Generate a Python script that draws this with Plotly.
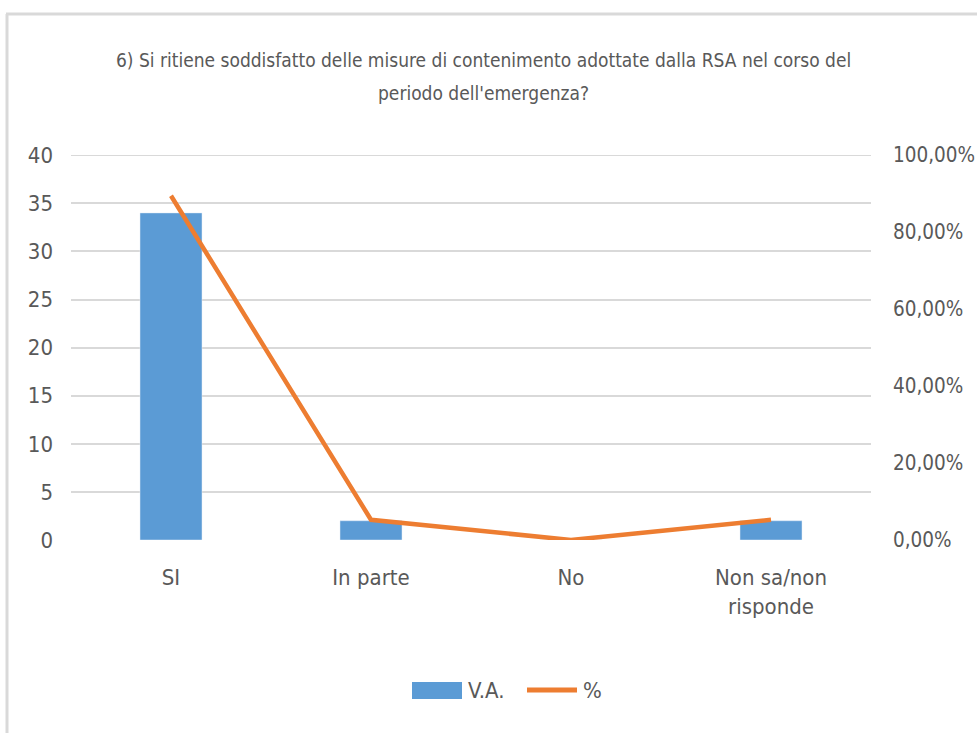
import plotly.graph_objects as go

categories = ["SI", "In parte", "No", "Non sa/non<br>risponde"]
va_values = [34, 2, 0, 2]
pct_values = [0.8947, 0.0526, 0.0, 0.0526]
left_ticks = [0, 5, 10, 15, 20, 25, 30, 35, 40]
right_ticks = [0, 0.2, 0.4, 0.6, 0.8, 1.0]
title_lines = ["6) Si ritiene soddisfatto delle misure di contenimento adottate dalla RSA nel corso del",
               "periodo dell'emergenza?"]
legend_names = ["V.A.", "%"]

FONT = "DejaVu Sans Condensed, Liberation Sans Narrow, sans-serif"
TXT = "#595959"
BLUE = "#5B9BD5"
ORANGE = "#ED7D31"
GRID = "#D9D9D9"

fig = go.Figure()
fig.add_trace(go.Bar(x=categories, y=va_values, name=legend_names[0], marker_color=BLUE,
                     width=0.31, yaxis="y", showlegend=False))
fig.add_trace(go.Scatter(x=categories, y=pct_values, name=legend_names[1], mode="lines",
                         line=dict(color=ORANGE, width=4.5), yaxis="y2", showlegend=False))

L, R, T, B = 71, 871, 155, 540
W, H = 977, 733
def px(x):
    return (x - L) / (R - L)
def py(y):
    return (B - y) / (B - T)

annotations = [
    dict(text=title_lines[0], xref="paper", yref="paper", x=px(483), y=py(60),
         xanchor="center", yanchor="middle", showarrow=False, font=dict(size=19, color=TXT)),
    dict(text=title_lines[1], xref="paper", yref="paper", x=px(483), y=py(93),
         xanchor="center", yanchor="middle", showarrow=False, font=dict(size=19, color=TXT)),
    dict(text=legend_names[0], xref="paper", yref="paper", x=px(466), y=py(690),
         xanchor="left", yanchor="middle", showarrow=False, font=dict(size=22, color=TXT)),
    dict(text=legend_names[1], xref="paper", yref="paper", x=px(581), y=py(690),
         xanchor="left", yanchor="middle", showarrow=False, font=dict(size=22, color=TXT)),
]

shapes = [
    dict(type="line", xref="paper", yref="paper", x0=px(6), x1=px(977), y0=py(14), y1=py(14),
         line=dict(color=GRID, width=3)),
    dict(type="line", xref="paper", yref="paper", x0=px(7), x1=px(7), y0=py(14), y1=py(733),
         line=dict(color=GRID, width=3)),
    dict(type="line", xref="paper", yref="y", x0=0, x1=1, y0=left_ticks[-1], y1=left_ticks[-1],
         line=dict(color=GRID, width=1.5), layer="below"),
    dict(type="rect", xref="paper", yref="paper", x0=px(412), x1=px(462), y0=py(699), y1=py(682),
         line=dict(width=0), fillcolor=BLUE),
    dict(type="line", xref="paper", yref="paper", x0=px(527), x1=px(577), y0=py(690), y1=py(690),
         line=dict(color=ORANGE, width=5)),
]

fig.update_layout(
    width=W, height=H,
    margin=dict(l=L, r=W - R, t=T, b=H - B, autoexpand=False),
    paper_bgcolor="white", plot_bgcolor="white",
    separators=",.",
    font=dict(family=FONT, color=TXT, size=22),
    showlegend=False,
    xaxis=dict(showgrid=False, showline=False, ticks="", ticklabelstandoff=22,
               automargin=False, tickfont=dict(size=22, color=TXT)),
    yaxis=dict(range=[0, 40.02], tickvals=left_ticks, showgrid=True, gridcolor=GRID,
               gridwidth=1.5, zeroline=False, showline=False, ticks="", automargin=False,
               ticklabelstandoff=17, tickfont=dict(size=22, color=TXT)),
    yaxis2=dict(range=[0, 1.0005], tickvals=right_ticks, tickformat=".2%", overlaying="y",
                side="right", showgrid=False, zeroline=False, showline=False, ticks="",
                automargin=False, ticklabelstandoff=21, tickfont=dict(size=20.5, color=TXT)),
    bargap=0.69,
    shapes=shapes,
    annotations=annotations,
)

fig.write_html("out.html", config={"displayModeBar": False},
               post_script="document.body.style.margin='0';document.body.style.overflow='hidden';")
